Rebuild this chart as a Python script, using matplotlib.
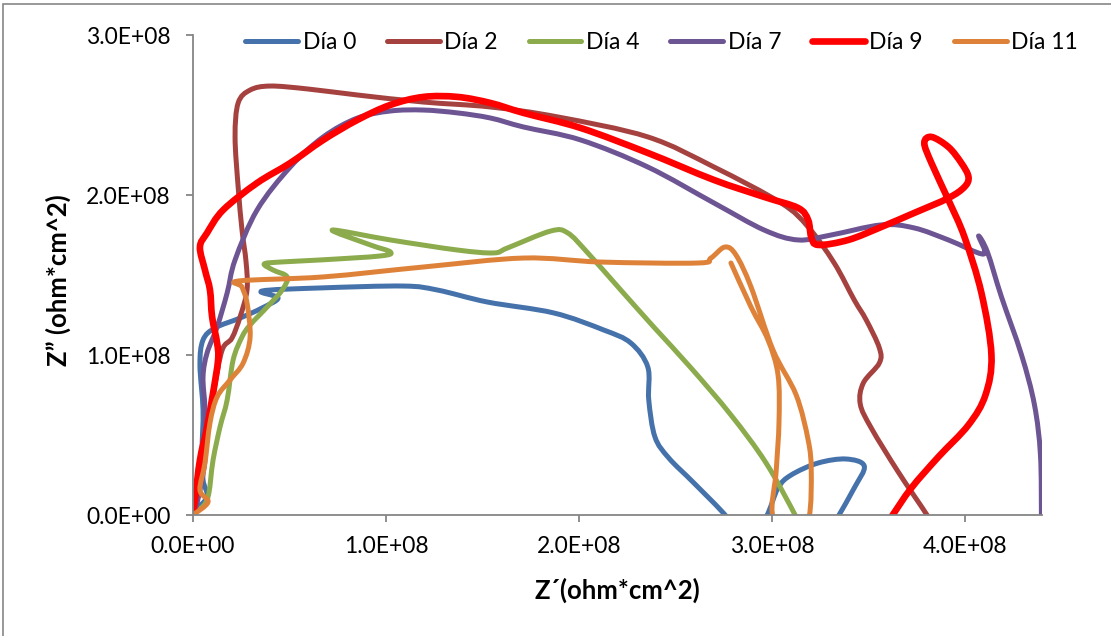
import numpy as np
import matplotlib.pyplot as plt
from matplotlib.path import Path
from matplotlib.patches import PathPatch, Rectangle
from matplotlib.lines import Line2D
from matplotlib.ticker import FuncFormatter, MultipleLocator

plt.rcParams['font.family'] = ['Lato', 'DejaVu Sans']

SCALE = 1e8  # values below are in units of 1E+08 ohm*cm^2

# Día 0
d0_x = [0.010, 0.073, 0.052, 0.047, 0.052, 0.036, 0.052, 0.114, 0.244, 0.358, 0.441, 0.358,
        0.659, 1.090, 1.267, 1.526, 1.869, 2.129, 2.269, 2.357, 2.362, 2.394, 2.466, 2.596,
        2.767, 2.866, 2.970, 3.032, 3.100, 3.240, 3.385, 3.479, 3.427, 3.339, 3.297]
d0_y = [0.031, 0.113, 0.219, 0.406, 0.656, 0.938, 1.094, 1.169, 1.231, 1.294, 1.356, 1.400,
        1.419, 1.431, 1.406, 1.331, 1.263, 1.156, 1.075, 0.925, 0.719, 0.488, 0.356, 0.200,
        -0.013, -0.188, -0.013, 0.169, 0.250, 0.325, 0.350, 0.306, 0.169, -0.019, -0.106]

# Día 2
d2_x = [0.000, 0.021, 0.047, 0.078, 0.109, 0.151, 0.202, 0.244, 0.280, 0.275, 0.254, 0.234,
        0.218, 0.234, 0.296, 0.400, 0.592, 0.852, 1.194, 1.542, 1.890, 2.357, 2.700, 3.048,
        3.188, 3.323, 3.427, 3.489, 3.557, 3.557, 3.474, 3.458, 3.515, 3.655, 3.811, 3.879]
d2_y = [0.013, 0.094, 0.281, 0.531, 0.781, 1.031, 1.106, 1.238, 1.406, 1.581, 1.781, 2.050,
        2.363, 2.575, 2.656, 2.681, 2.663, 2.625, 2.581, 2.550, 2.488, 2.363, 2.175, 1.950,
        1.800, 1.575, 1.344, 1.219, 1.044, 0.950, 0.825, 0.694, 0.544, 0.269, -0.013, -0.156]

# Día 4
d4_x = [0.000, 0.073, 0.104, 0.140, 0.177, 0.208, 0.254, 0.296, 0.384, 0.462, 0.488, 0.415,
        0.369, 0.452, 0.659, 0.971, 1.023, 0.919, 0.722, 1.023, 1.371, 1.558, 1.630, 1.854,
        1.942, 2.046, 2.217, 2.388, 2.581, 2.788, 2.970, 3.126, 3.178]
d4_y = [0.013, 0.094, 0.344, 0.550, 0.719, 0.969, 1.113, 1.188, 1.300, 1.406, 1.488, 1.531,
        1.569, 1.581, 1.594, 1.619, 1.644, 1.688, 1.781, 1.719, 1.656, 1.638, 1.669, 1.775,
        1.763, 1.638, 1.406, 1.175, 0.919, 0.625, 0.325, -0.013, -0.156]

# Día 7
d7_x = [0.000, 0.021, 0.062, 0.062, 0.052, 0.073, 0.125, 0.177, 0.218, 0.332, 0.504, 0.675,
        0.852, 1.023, 1.194, 1.371, 1.542, 1.713, 2.009, 2.357, 2.700, 2.960, 3.136, 3.307,
        3.567, 3.738, 3.915, 4.097, 4.071, 4.117, 4.190, 4.294, 4.361, 4.392, 4.397]
d7_y = [0.013, 0.075, 0.344, 0.656, 0.863, 1.013, 1.175, 1.388, 1.594, 1.906, 2.175, 2.363,
        2.481, 2.525, 2.531, 2.513, 2.481, 2.425, 2.344, 2.175, 1.950, 1.781, 1.719, 1.750,
        1.813, 1.794, 1.719, 1.631, 1.744, 1.644, 1.363, 1.000, 0.688, 0.375, -0.013]

# Día 9
d9_x = [0.000, 0.010, 0.036, 0.073, 0.104, 0.130, 0.125, 0.099, 0.088, 0.062, 0.036, 0.073,
        0.156, 0.332, 0.504, 0.675, 0.852, 1.023, 1.194, 1.371, 1.542, 1.713, 2.009, 2.357,
        2.700, 2.960, 3.136, 3.188, 3.204, 3.240, 3.396, 3.567, 3.738, 3.915, 3.998, 4.019,
        3.982, 3.915, 3.827, 3.790, 3.827, 3.915, 3.998, 4.086, 4.138, 4.107, 4.019,
        3.863, 3.723, 3.619, 3.557]
d9_y = [0.013, 0.094, 0.344, 0.550, 0.763, 0.969, 1.075, 1.238, 1.406, 1.531, 1.675, 1.763,
        1.906, 2.075, 2.200, 2.344, 2.469, 2.563, 2.613, 2.613, 2.575, 2.513, 2.419, 2.263,
        2.094, 1.988, 1.919, 1.844, 1.738, 1.688, 1.719, 1.800, 1.888, 1.981, 2.050, 2.113,
        2.200, 2.300, 2.363, 2.325, 2.200, 1.969, 1.738, 1.388, 1.000, 0.750, 0.563,
        0.363, 0.169, -0.013, -0.125]

# Día 11
d11_x = [0.000, 0.078, 0.036, 0.062, 0.088, 0.125, 0.192, 0.260, 0.296, 0.280, 0.254, 0.239,
         0.675, 1.194, 1.713, 2.113, 2.617, 2.684, 2.757, 2.814, 2.892, 3.006, 3.126, 3.188,
         3.204, 3.193, 3.126, 3.006, 3.022, 3.037, 3.032, 2.980, 2.892, 2.788]
d11_y = [0.000, 0.081, 0.156, 0.325, 0.575, 0.738, 0.844, 0.950, 1.113, 1.325, 1.425, 1.463,
         1.488, 1.550, 1.606, 1.581, 1.575, 1.606, 1.675, 1.625, 1.425, 1.031, 0.750, 0.469,
         0.281, -0.013, -0.188, -0.013, 0.269, 0.581, 0.875, 1.094, 1.300, 1.575]

labels = ['Día 0', 'Día 2', 'Día 4', 'Día 7', 'Día 9', 'Día 11']
series = [(d0_x, d0_y), (d2_x, d2_y), (d4_x, d4_y), (d7_x, d7_y), (d9_x, d9_y), (d11_x, d11_y)]
colors = ['#4672AB', '#A5423F', '#8BAB4C', '#6D5492', '#FF0000', '#DF8239']
widths = [3.6, 3.6, 3.6, 3.6, 4.8, 3.6]


def smooth_path(x, y):
    # Excel-style smoothed line: cubic Bezier segments through every point
    p = np.column_stack([x, y]) * SCALE
    ext = np.vstack([p[0], p, p[-1]])
    verts = [p[0]]
    codes = [Path.MOVETO]
    for i in range(len(p) - 1):
        p0, p1, p2, p3 = ext[i], ext[i + 1], ext[i + 2], ext[i + 3]
        verts += [p1 + (p2 - p0) / 6, p2 - (p3 - p1) / 6, p2]
        codes += [Path.CURVE4] * 3
    return Path(verts, codes)


fig = plt.figure(figsize=(11.11, 6.36), dpi=100)
ax = fig.add_axes([193 / 1111, 1 - 515 / 636, 849 / 1111, 480 / 636])

handles = []
for (x, y), c, lw, lab in zip(series, colors, widths, labels):
    ax.add_patch(PathPatch(smooth_path(x, y), fill=False, edgecolor=c, lw=lw,
                           capstyle='round', joinstyle='round'))
    handles.append(Line2D([0], [0], color=c, lw=lw, solid_capstyle='round', label=lab))

ax.set_xlim(0, 4.4e8)
ax.set_ylim(0, 3.0e8)
ax.xaxis.set_major_locator(MultipleLocator(1e8))
ax.yaxis.set_major_locator(MultipleLocator(1e8))
fmt = FuncFormatter(lambda v, pos: f"{v:.1E}")
ax.xaxis.set_major_formatter(fmt)
ax.yaxis.set_major_formatter(fmt)

grey = '#868686'
for s in ['top', 'right']:
    ax.spines[s].set_visible(False)
for s in ['left', 'bottom']:
    ax.spines[s].set_color(grey)
    ax.spines[s].set_linewidth(1.3)
ax.tick_params(axis='both', direction='out', length=5, width=1.3, color=grey,
               labelsize=16.5, labelcolor='black')
ax.tick_params(axis='x', pad=10)
ax.tick_params(axis='y', pad=11)

leg = ax.legend(handles=handles, loc='center', bbox_to_anchor=(0.552, 0.985), ncol=6,
                frameon=False, fontsize=16.5, handlelength=2.3, handletextpad=0.2,
                columnspacing=1.35)

fig.text(617 / 1111, 1 - 590 / 636, 'Z´(ohm*cm^2)', ha='center', va='center',
         fontsize=18.5, fontweight='bold')
fig.text(58 / 1111, 1 - 280 / 636, 'Z” (ohm*cm^2)', ha='center', va='center',
         rotation=90, fontsize=18.5, fontweight='bold')

# chart area border
fig.patches.append(Rectangle((3 / 1111, -0.1), 1.2, 1.1 - 4 / 636, fill=False,
                             edgecolor=grey, lw=1.2, transform=fig.transFigure))

fig.savefig('out.png', dpi=100)
